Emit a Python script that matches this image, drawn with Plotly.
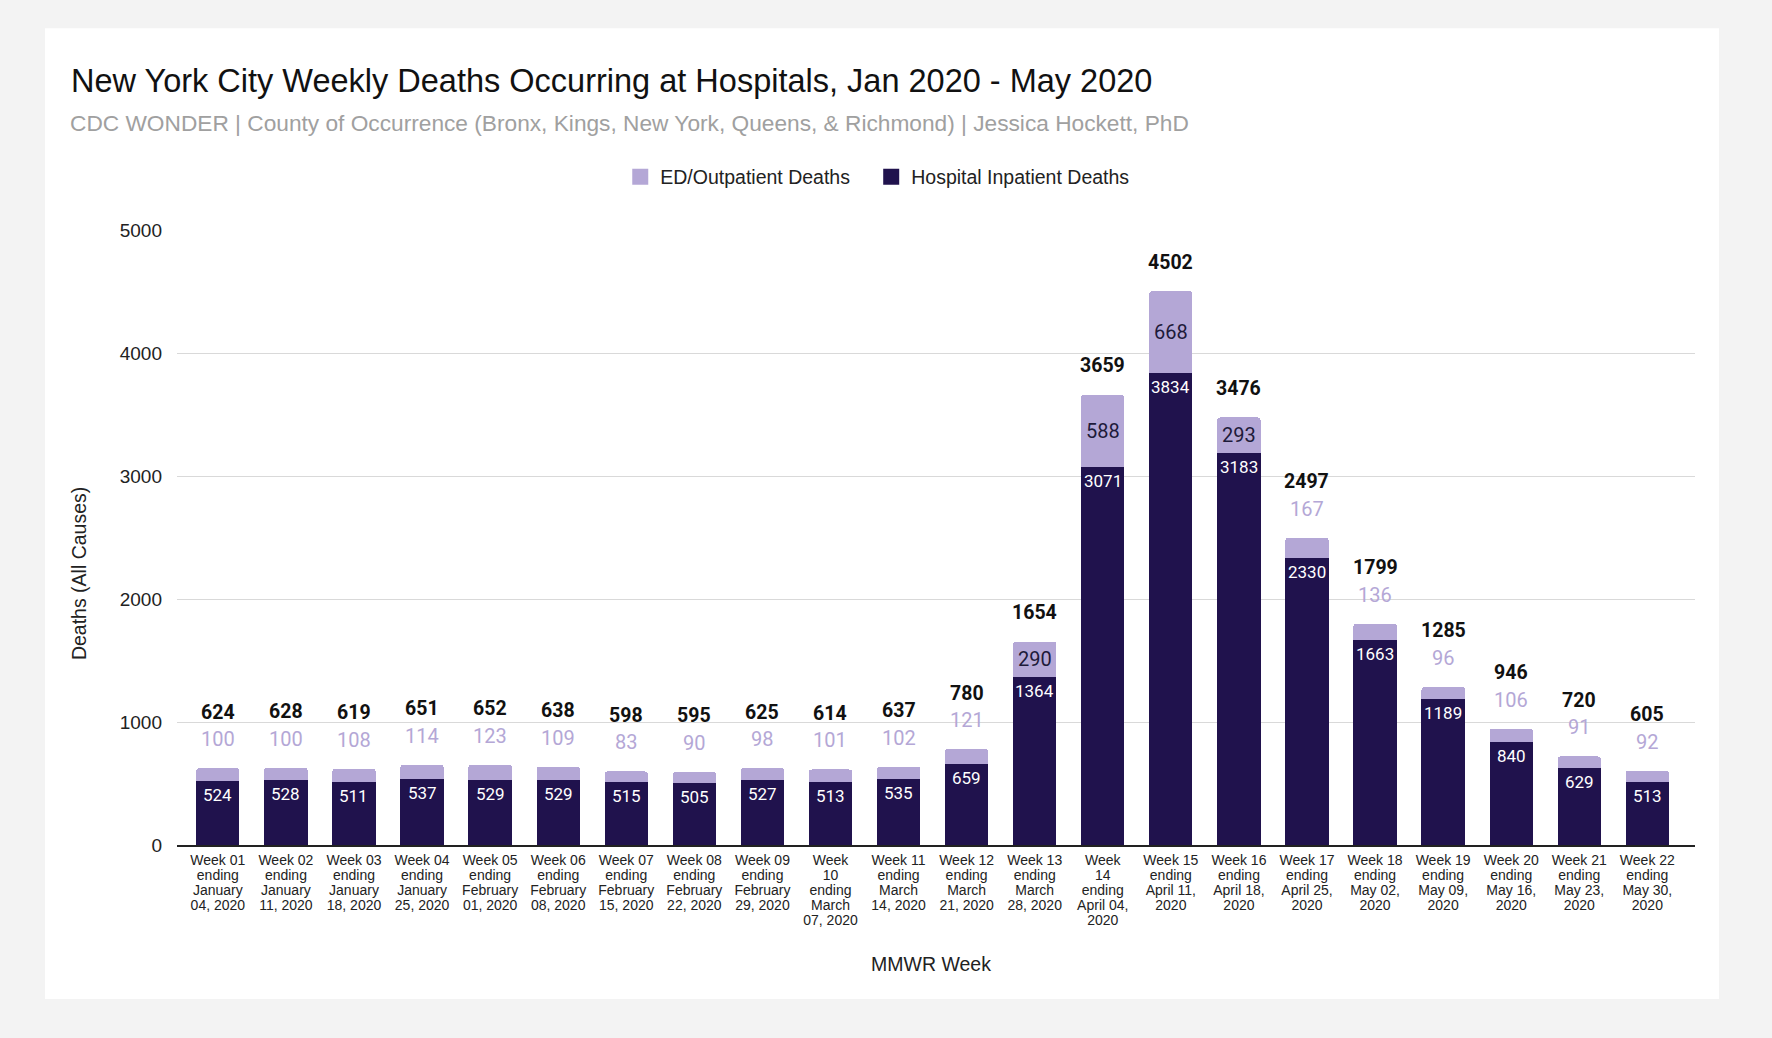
import plotly.graph_objects as go

categories = [f"Week {i:02d}" for i in range(1, 23)]
tick_labels = [
    "Week 01<br>ending<br>January<br>04, 2020",
    "Week 02<br>ending<br>January<br>11, 2020",
    "Week 03<br>ending<br>January<br>18, 2020",
    "Week 04<br>ending<br>January<br>25, 2020",
    "Week 05<br>ending<br>February<br>01, 2020",
    "Week 06<br>ending<br>February<br>08, 2020",
    "Week 07<br>ending<br>February<br>15, 2020",
    "Week 08<br>ending<br>February<br>22, 2020",
    "Week 09<br>ending<br>February<br>29, 2020",
    "Week<br>10<br>ending<br>March<br>07, 2020",
    "Week 11<br>ending<br>March<br>14, 2020",
    "Week 12<br>ending<br>March<br>21, 2020",
    "Week 13<br>ending<br>March<br>28, 2020",
    "Week<br>14<br>ending<br>April 04,<br>2020",
    "Week 15<br>ending<br>April 11,<br>2020",
    "Week 16<br>ending<br>April 18,<br>2020",
    "Week 17<br>ending<br>April 25,<br>2020",
    "Week 18<br>ending<br>May 02,<br>2020",
    "Week 19<br>ending<br>May 09,<br>2020",
    "Week 20<br>ending<br>May 16,<br>2020",
    "Week 21<br>ending<br>May 23,<br>2020",
    "Week 22<br>ending<br>May 30,<br>2020",
]
inpatient = [524, 528, 511, 537, 529, 529, 515, 505, 527, 513, 535, 659,
             1364, 3071, 3834, 3183, 2330, 1663, 1189, 840, 629, 513]
outpatient = [100, 100, 108, 114, 123, 109, 83, 90, 98, 101, 102, 121,
              290, 588, 668, 293, 167, 136, 96, 106, 91, 92]
y_ticks = [0, 1000, 2000, 3000, 4000, 5000]

DARK = "#20124d"
LIGHT = "#b4a7d6"
TXT = "Liberation Sans, Arial, sans-serif"
NUM = "Roboto, sans-serif"

# tighter line spacing: small base font (sets line pitch), larger glyphs via span
styled_ticks = ["<br>".join(f"<span style='font-size:14px'>{ln}</span>" for ln in t.split("<br>"))
                for t in tick_labels]

fig = go.Figure()
fig.add_trace(go.Bar(x=categories, y=inpatient, name="Hospital Inpatient Deaths",
                     marker=dict(color=DARK, line=dict(width=0)), showlegend=False))
fig.add_trace(go.Bar(x=categories, y=outpatient, name="ED/Outpatient Deaths",
                     marker=dict(color=LIGHT, line=dict(width=0)), showlegend=False))
# legend entries (larger square swatches)
fig.add_trace(go.Scatter(x=[None], y=[None], mode="markers",
                         name="ED/Outpatient Deaths\u00a0\u00a0\u00a0",
                         marker=dict(symbol="square", size=16, color=LIGHT)))
fig.add_trace(go.Scatter(x=[None], y=[None], mode="markers", name="Hospital Inpatient Deaths",
                         marker=dict(symbol="square", size=16, color=DARK)))

plot_h = 615
ymax = 5000
annotations = []
for c, a, b in zip(categories, inpatient, outpatient):
    total = a + b
    annotations.append(dict(x=c, y=a, yshift=-14, text=str(a), showarrow=False,
                            font=dict(family=NUM, size=17, color="white")))
    inside = b * plot_h / ymax > 25
    if inside:
        annotations.append(dict(x=c, y=a + b / 2, text=str(b), showarrow=False,
                                font=dict(family=NUM, size=20, color="#1e1a3a")))
        tshift = 29
    else:
        annotations.append(dict(x=c, y=total, yshift=29, text=str(b), showarrow=False,
                                font=dict(family=NUM, size=20, color=LIGHT)))
        tshift = 56
    annotations.append(dict(x=c, y=total, yshift=tshift, text=f"<b>{total}</b>",
                            showarrow=False,
                            font=dict(family=NUM, size=19.5, color="#111111")))

annotations.append(dict(xref="paper", yref="paper", x=-0.0646, xanchor="center",
                        y=0.442, yanchor="middle",
                        text="Deaths (All Causes)", textangle=-90, showarrow=False,
                        font=dict(family=TXT, size=19.5, color="#222222")))
annotations.append(dict(xref="paper", yref="paper", x=0.497, xanchor="center",
                        y=-0.1935, yanchor="middle",
                        text="MMWR Week", showarrow=False,
                        font=dict(family=TXT, size=19.5, color="#222222")))
annotations.append(dict(xref="paper", yref="paper", x=-0.072, xanchor="left",
                        y=1.1745, yanchor="middle",
                        text="CDC WONDER | County of Occurrence (Bronx, Kings, New York, Queens, &amp; Richmond) | Jessica Hockett, PhD",
                        showarrow=False,
                        font=dict(family=TXT, size=22.7, color="#a0a0a0")))

fig.update_layout(
    width=1772, height=1038,
    margin=dict(l=177, r=77, t=230, b=193),
    paper_bgcolor="#f3f3f3",
    plot_bgcolor="white",
    barmode="stack",
    bargap=0.364,
    barcornerradius=3,
    title=dict(text="New York City Weekly Deaths Occurring at Hospitals, Jan 2020 - May 2020",
               x=71 / 1772, xanchor="left", y=1 - 81 / 1038, yanchor="middle",
               font=dict(family=TXT, size=32.5, color="#111111")),
    legend=dict(orientation="h", traceorder="normal", x=0.292, xanchor="left",
                y=1.086, yanchor="middle",
                itemsizing="trace", bgcolor="rgba(0,0,0,0)",
                font=dict(family=TXT, size=19.5, color="#222222")),
    shapes=[dict(type="rect", xref="paper", yref="paper", x0=-0.087, x1=1.0158,
                 y0=-0.2504, y1=1.328, fillcolor="white", line=dict(width=0),
                 layer="below")],
    annotations=annotations,
)
fig.update_xaxes(type="category", range=[-0.6, 21.7], tickmode="array",
                 tickvals=categories, ticktext=styled_ticks,
                 tickfont=dict(family=TXT, size=11.4, color="#222222"),
                 ticklabelstandoff=5,
                 showline=True, linecolor="#222222", linewidth=1.5,
                 showgrid=False, ticks="")
fig.update_yaxes(range=[0, 5000], tickmode="array", tickvals=y_ticks,
                 tickfont=dict(family=TXT, size=19, color="#222222"),
                 gridcolor="#d9d9d9", gridwidth=1, zeroline=False,
                 ticklabelstandoff=14, showline=False)

fig.write_html("out.html", config={"displayModeBar": False},
               post_script="document.body.style.margin='0';document.body.style.background='#f3f3f3';")
